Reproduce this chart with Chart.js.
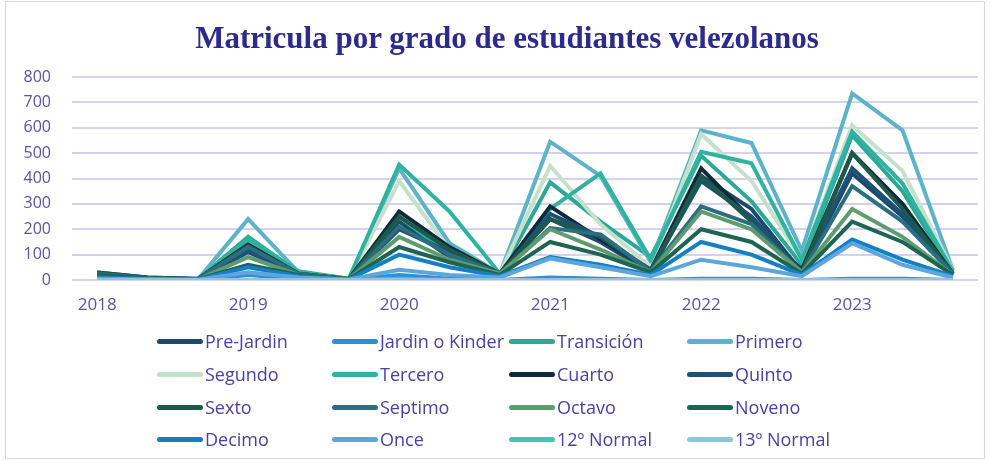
<!DOCTYPE html>
<html>
<head>
<meta charset="utf-8">
<script src="https://cdn.jsdelivr.net/npm/chart.js@4.4.1/dist/chart.umd.min.js"></script>
<style>
  html, body { margin: 0; padding: 0; background: #fff; }
  #marco { position: relative; width: 991px; height: 461px; overflow: hidden; }
  #borde { position: absolute; left: 5px; top: 1px; width: 980px; height: 458px; border: 1px solid #d8d4ee; box-sizing: border-box; }
  #migrafica { position: absolute; left: 0; top: 0; }
  #titulo { position: absolute; left: 107px; width: 800px; top: 18px; text-align: center; white-space: nowrap;
            font-family: "Liberation Serif", serif; font-weight: bold; font-size: 31px; line-height: 40px; color: #2c2a8e; }
  #leyenda { position: absolute; left: 0; top: 0; width: 991px; height: 461px; pointer-events: none;
             font-family: "Open Sans", sans-serif; font-size: 18px; color: #4a40ad; }
  .item { position: absolute; display: flex; align-items: center; white-space: nowrap; }
  .linea { width: 46px; height: 5px; border-radius: 3px; margin-right: 2px; }
</style>
</head>
<body>
<div id="marco">
  <div id="borde"></div>
  <canvas id="migrafica" width="991" height="461"></canvas>
  <div id="titulo">Matricula por grado de estudiantes velezolanos</div>
  <div id="leyenda"></div>
</div>
<script>
// años del eje x (tres puntos por año)
const anios = ["2018", "2019", "2020", "2021", "2022", "2023"];
const periodos = [];
anios.forEach(a => { periodos.push(a, a + "-b", a + "-c"); });

const grados = ["Pre-Jardin", "Jardin o Kinder", "Transición", "Primero",
                "Segundo", "Tercero", "Cuarto", "Quinto",
                "Sexto", "Septimo", "Octavo", "Noveno",
                "Decimo", "Once", "12º Normal", "13º Normal"];

const colores = ["#1d4a6b", "#2f8fd5", "#2aa996", "#5cb3cb",
                 "#c5e0cb", "#2db39e", "#0f2a3c", "#1e5079",
                 "#1b5a49", "#2b6e82", "#5c9c6e", "#1d6551",
                 "#1180c4", "#5ca6dc", "#41c6b3", "#8fc5da"];

const preJardin  = [30, 10, 5, 120, 25, 5, 230, 90, 20, 240, 150, 30, 410, 280, 30, 420, 250, 20];
const jardin     = [0, 0, 0, 20, 5, 0, 20, 5, 0, 10, 5, 0, 5, 5, 0, 5, 5, 0];
const transicion = [20, 8, 3, 170, 30, 5, 250, 100, 20, 385, 230, 90, 490, 310, 60, 570, 350, 30];
const primero    = [10, 5, 2, 240, 30, 5, 440, 145, 25, 545, 410, 70, 590, 540, 115, 735, 590, 40];
const segundo    = [10, 5, 2, 100, 25, 3, 390, 120, 25, 450, 220, 50, 575, 390, 80, 610, 430, 40];
const tercero    = [15, 6, 3, 160, 35, 5, 455, 270, 25, 280, 420, 80, 505, 460, 80, 585, 380, 35];
const cuarto     = [25, 8, 3, 140, 25, 3, 270, 130, 25, 290, 160, 40, 440, 240, 40, 500, 300, 25];
const quinto     = [20, 7, 3, 110, 25, 3, 200, 110, 20, 260, 170, 40, 390, 250, 35, 440, 260, 25];
const sexto      = [30, 10, 4, 135, 25, 3, 250, 120, 25, 240, 170, 35, 410, 230, 30, 500, 280, 25];
const septimo    = [25, 8, 3, 130, 25, 3, 210, 100, 25, 205, 180, 35, 290, 220, 30, 370, 230, 25];
const octavo     = [15, 6, 2, 90, 20, 3, 170, 80, 25, 200, 120, 30, 270, 200, 30, 280, 170, 20];
const noveno     = [20, 7, 3, 60, 20, 3, 130, 70, 20, 150, 100, 30, 200, 150, 25, 230, 150, 20];
const decimo     = [10, 4, 2, 50, 15, 2, 100, 50, 15, 90, 60, 20, 150, 100, 20, 160, 80, 15];
const once       = [5, 3, 1, 30, 10, 2, 40, 20, 10, 85, 50, 15, 80, 50, 15, 145, 60, 10];
const normal12   = [0, 0, 0, 0, 0, 0, 5, 0, 0, 0, 0, 0, 0, 0, 0, 0, 0, 0];
const normal13   = [0, 0, 0, 0, 0, 0, 0, 0, 0, 0, 0, 0, 0, 0, 0, 0, 0, 0];

const valores = [preJardin, jardin, transicion, primero, segundo, tercero, cuarto, quinto,
                 sexto, septimo, octavo, noveno, decimo, once, normal12, normal13];

const textoMorado = "#5a52b0";

document.addEventListener("DOMContentLoaded", function () {
    let micanvas = document.getElementById("migrafica").getContext("2d");

    let datasets = grados.map((g, i) => ({
        label: g,
        data: valores[i],
        borderColor: colores[i],
        backgroundColor: colores[i],
        borderWidth: 4,
        pointRadius: 0,
        tension: 0,
        order: grados.length - 1 - i
    }));

    let chart = new Chart(micanvas, {
        type: 'line',
        data: { labels: periodos, datasets: datasets },
        options: {
            responsive: false,
            animation: false,
            layout: { padding: { left: 0, right: 13, top: 77, bottom: 151 } },
            plugins: {
                legend: { display: false },
                tooltip: { enabled: false },
                title: { display: false }
            },
            scales: {
                x: {
                    offset: true,
                    grid: { display: false },
                    border: { display: false },
                    afterFit: s => { s.height = 30; },
                    ticks: {
                        autoSkip: false,
                        maxRotation: 0,
                        padding: 7,
                        color: textoMorado,
                        font: { family: "'Open Sans', sans-serif", size: 17 },
                        callback: function (v, i) { return i % 3 === 0 ? anios[i / 3] : ""; }
                    }
                },
                y: {
                    min: 0, max: 800,
                    grid: { color: "#d6d0f2", lineWidth: 2, drawTicks: false },
                    border: { display: false },
                    afterFit: s => { s.width = 72; },
                    ticks: {
                        stepSize: 100,
                        padding: 21,
                        color: textoMorado,
                        font: { family: "'Open Sans', sans-serif", size: 16 }
                    }
                }
            }
        }
    });

    // leyenda en cuadrícula 4 x 4
    const colX = [157, 332, 509, 687];
    const filaY = [341, 374, 407, 439];
    const ley = document.getElementById("leyenda");
    chart.data.datasets.forEach((ds, i) => {
        let it = document.createElement("div");
        it.className = "item";
        it.style.left = colX[i % 4] + "px";
        it.style.top = (filaY[Math.floor(i / 4)] - 13) + "px";
        it.style.height = "26px";
        it.innerHTML = '<span class="linea" style="background:' + ds.borderColor + '"></span><span>' + ds.label + '</span>';
        ley.appendChild(it);
    });
});
</script>
</body>
</html>
